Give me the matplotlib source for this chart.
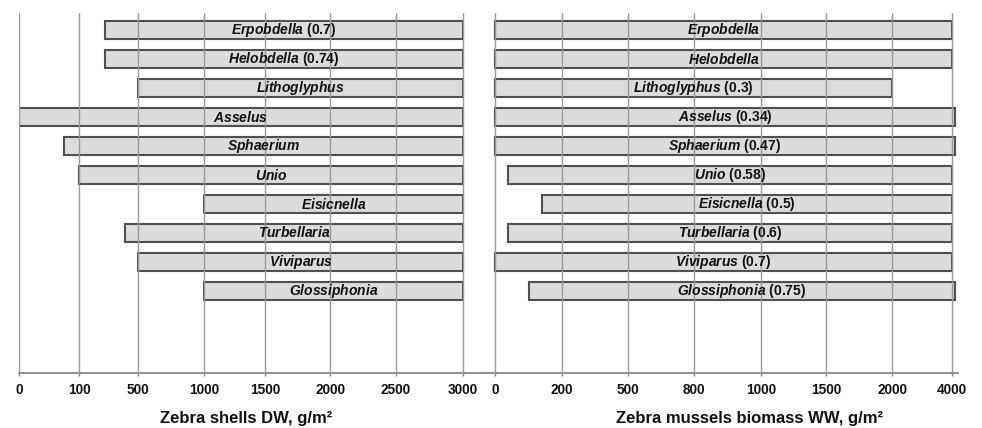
import numpy as np
import matplotlib
matplotlib.use("Agg")
import matplotlib.pyplot as plt

plt.rcParams['font.family'] = ['Liberation Sans', 'DejaVu Sans']
plt.rcParams['mathtext.fontset'] = 'custom'
plt.rcParams['mathtext.it'] = 'Liberation Sans:italic:bold'
plt.rcParams['mathtext.rm'] = 'Liberation Sans:bold'
plt.rcParams['mathtext.bf'] = 'Liberation Sans:bold'

# ---------------- data ----------------
species = ["Erpobdella", "Helobdella", "Lithoglyphus", "Asselus", "Sphaerium",
           "Unio", "Eisicnella", "Turbellaria", "Viviparus", "Glossiphonia"]

shells_ticks = [0, 100, 500, 1000, 1500, 2000, 2500, 3000]
shells_low = [275, 275, 500, 0, 75, 100, 1000, 410, 500, 1000]
shells_high = [3000, 3000, 3000, 3000, 3000, 3000, 3000, 3000, 3000, 3000]
shells_note = ["0.7", "0.74", "", "", "", "", "", "", "", ""]

biomass_ticks = [0, 200, 500, 800, 1000, 1500, 2000, 4000]
biomass_low = [0, 0, 0, 0, 0, 40, 140, 40, 0, 100]
biomass_high = [4000, 4000, 2000, 4100, 4100, 4000, 4000, 4000, 4000, 4100]
biomass_note = ["", "", "0.3", "0.34", "0.47", "0.58", "0.5", "0.6", "0.7", "0.75"]

shells_label = "Zebra shells DW, g/m²"
biomass_label = "Zebra mussels biomass WW, g/m²"

# ---------------- figure ----------------
W, H = 982, 428
fig = plt.figure(figsize=(W / 100, H / 100), dpi=100)

def px_axes(x0, x1, ytop, ybot):
    return fig.add_axes([x0 / W, (H - ybot) / H, (x1 - x0) / W, (ybot - ytop) / H])

def make_scale(ticks, tick_px, lo_ext, lo_px, hi_ext, hi_px):
    # piecewise-linear (categorical-like) axis scale
    vals = np.array([lo_ext] + list(ticks) + [hi_ext], dtype=float)
    pos = np.array([lo_px] + list(tick_px) + [hi_px], dtype=float)
    fwd = lambda v: np.interp(v, vals, pos)
    inv = lambda p: np.interp(p, pos, vals)
    return fwd, inv

def draw_panel(ax, scale, xlim_px, ticks, low, high, note, xlabel, label_x):
    fwd, inv = scale
    ax.set_xscale('function', functions=(fwd, inv))
    y = np.arange(len(species))
    low = np.array(low, float)
    high = np.array(high, float)
    ax.barh(y, high - low, left=low, height=0.6, color='#dcdcdc',
            edgecolor='#505050', linewidth=1.5, zorder=2)
    for i, sp in enumerate(species):
        mid = float(inv((fwd(low[i]) + fwd(high[i])) / 2))
        txt = r"$\mathit{%s}$" % sp
        if note[i]:
            txt += " (%s)" % note[i]
        ax.text(mid, y[i], txt, ha='center', va='center', fontsize=10,
                fontweight='bold', color='#111111', zorder=3)
    ax.set_xlim(inv(xlim_px[0]), inv(xlim_px[1]))
    ax.set_ylim(len(species) - 1 + 2.83, -0.59)
    ax.set_xticks(ticks)
    ax.set_xticklabels([str(t) for t in ticks], fontsize=9.8, fontweight='bold', color='#111111')
    ax.set_yticks([])
    ax.xaxis.grid(True, color='#999999', linewidth=1.0, zorder=2.5)
    ax.set_axisbelow(False)
    for s in ['top', 'left', 'right']:
        ax.spines[s].set_visible(False)
    ax.spines['bottom'].set_color('#888888')
    ax.spines['bottom'].set_linewidth(1.3)
    ax.tick_params(axis='x', length=2.5, width=1, color='#888888', pad=4.5)
    ax.set_xlabel(xlabel, fontsize=12, fontweight='bold', color='#111111')
    ax.xaxis.set_label_coords(label_x, -0.105)
    ax.xaxis.label.set_va('top')

ax1 = px_axes(19, 487, 13, 373)
scale1 = make_scale(shells_ticks, [19, 79, 138, 204, 265, 330, 396, 463],
                    -100, -41, 3500, 529)
draw_panel(ax1, scale1, (19, 487), shells_ticks, shells_low, shells_high,
           shells_note, shells_label, (246 - 19) / 468)

ax2 = px_axes(488, 958, 13, 373)
scale2 = make_scale(biomass_ticks, [495, 562, 628, 694, 761, 826, 892, 952],
                    -200, 428, 6000, 1012)
draw_panel(ax2, scale2, (488, 958), biomass_ticks, biomass_low, biomass_high,
           biomass_note, biomass_label, (750 - 488) / 470)

fig.savefig("out.png", dpi=100, facecolor='white')
